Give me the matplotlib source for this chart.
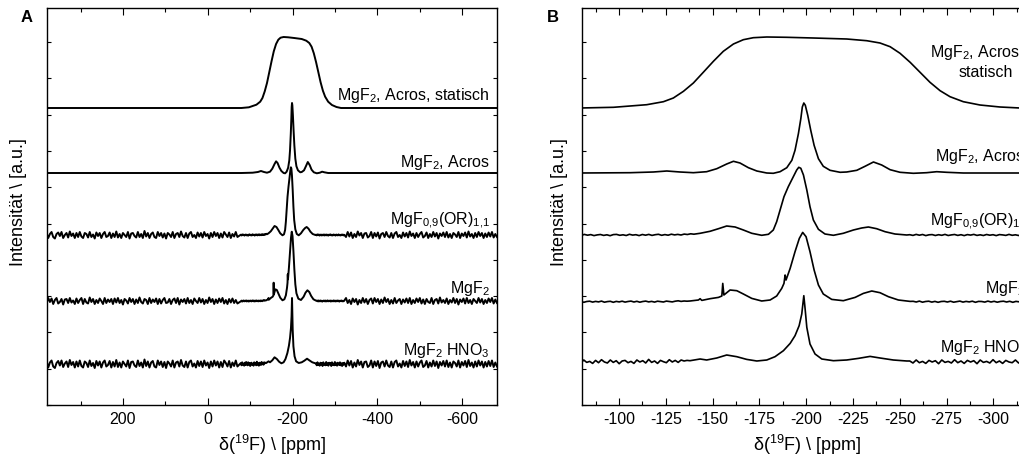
import numpy as np
from matplotlib import pyplot as plt
from matplotlib.ticker import MultipleLocator

plt.rcParams['font.family'] = ['Liberation Sans', 'DejaVu Sans']
plt.rcParams['mathtext.default'] = 'regular'
plt.rcParams['axes.unicode_minus'] = False

# --- spectra (ppm, intensity above own baseline) ---

# MgF2, Acros, static
stat_ppm = [380, 200, 0, -60, -79.2, -97.0, -114.8, -123.7, -129.0, -134.4, -139.7, -145.0,
            -150.4, -155.7, -161.1, -166.4, -171.7, -178.9, -189.6, -203.8, -221.6, -232.3,
            -239.4, -244.8, -250.1, -255.5, -260.8, -266.1, -271.5, -276.8, -283.9, -292.8,
            -303.5, -314.2, -340, -400, -682]
stat_int = [0, 0, 0, 0, 0, 0.7, 3.3, 6.3, 10, 16.7, 25, 35.7,
            46.7, 56.7, 64, 68.3, 70.3, 71, 70.7, 70, 69, 67.3,
            65, 61.3, 54.7, 45.7, 35.7, 25.7, 17.3, 11.3, 6.3, 3,
            1, 0, 0, 0, 0]

# MgF2, Acros (MAS)
acros_ppm = [380, 0, -79.2, -105.9, -118.3, -125.5, -132.6, -139.7, -146.8, -152.2, -157.5,
             -161.1, -164.6, -169.1, -173.6, -178.9, -182.4, -186.0, -189.6, -192.3, -194.0,
             -195.8, -197.1, -197.9, -198.7, -199.5, -200.8, -202.4, -204.2, -206.5, -209.1,
             -212.7, -218.1, -221.6, -227.0, -231.4, -235.9, -240.3, -244.8, -250.1, -257.2,
             -264.3, -269.7, -275.0, -283.9, -314.2, -400, -682]
acros_int = [0, 0, 0, 0.3, 1, 2, 1, 0.3, 1.3, 4.3, 9,
             11.7, 10, 5.3, 2, 0, -0.3, 1.3, 5.3, 12.7, 22.7,
             39.3, 54.3, 66, 70, 67.7, 57.7, 42.7, 27.7, 14.3, 6.7,
             2.7, 0.7, 1, 2.7, 6.7, 11, 8, 3.3, 0.7, -0.3,
             0.3, 1.3, 0.7, 0, 0, 0, 0]

# MgF0,9(OR)1,1 : baseline noise pieces + read peak region
or_noise_far_left = [
    2, -3, 1, 3, -2, -3.5, 1, 2.5, -1, 3, -3, 0, 2, -2.5, 3.5, -1, 1.5, -3, 2, -2,
    3, -1.5, -3, 2, 1, -2.5, 3, -2, 0.5, -3.5, 2.5, -1, 2, -3, 1, 3, -2, -1, 2.5, -3,
    1.5, -2, 3.5, -2.5, 1, -3, 2, 0, -2, 3, -3.5, 1.5, 2, -1, -2.5, 3, -2, 1, -3, 4,
    -1.5, 2, -3, 1, 2.5, -2, -3, 3, -1, 2, -2.5, 1.5, -3.5, 2, 0.5, -2, 3, -3, 1, 2,
    -2, 3.5, -1, -2.5, 2, -3, 1.5, 3, -2, 0, -3, 2.5, -1.5, 2, -2.5, 3, -1, 1, -3.5, 2,
    -2, 3, -1, 2, -3, 1.5, -2.5, 3, 0.5, -2, 2.5, -3, 1, -1.5, 3, -2]
or_noise_left = [
    0.3, -0.5, 0.6, -0.2, 0.4, -0.6, 0.1, 0.5, -0.4, 0.2, -0.7, 0.4, 0.6, -0.3, 0.2, -0.5,
    0.7, -0.1, 0.3, -0.6, 0.5, -0.2, 0.6, -0.4, 0.3, 0.7, -0.3, 0.4, -0.2, 0.8, 0.1, 0.6,
    0, 0.9, 0.5, 1.2, 0.8, 1.3]
or_peak_ppm = [-143.3, -148.6, -153.1, -157.5, -162.0, -166.4, -170.9, -176.2, -179.8, -182.4,
               -184.2, -186.0, -188.1, -190.4, -193.1, -194.9, -196.0, -197.1, -198.5, -200.3,
               -202.0, -203.8, -206.5, -210.0, -214.5, -219.8, -225.2, -229.6, -233.2, -237.6,
               -242.1, -247.4, -253.7]
or_peak_int = [1.7, 3.7, 6.3, 9, 8, 5, 1.7, -0.3, 0.7, 5,
               13.3, 25, 38.3, 48.3, 58.3, 65, 67.7, 66.7, 60, 45,
               28.3, 15, 5.7, 1, -0.3, 1.7, 5, 7, 8, 6.3,
               3.3, 1, 0]
or_noise_right = [
    0.3, -0.4, 0.6, -0.2, 0.5, -0.6, 0.2, 0.4, -0.5, 0.3, -0.3, 0.6, -0.5, 0.1, 0.5, -0.4,
    0.3, -0.6, 0.4, -0.1, 0.6, -0.4, 0.2, -0.5, 0.5, -0.2, 0.3, -0.6, 0.4, 0.1, -0.4, 0.6,
    -0.3, 0.2, -0.5, 0.4, -0.2, 0.5, -0.4, 0.2]
or_noise_far_right = [
    -2, 3, -1.5, 2.5, -3, 1, -2, 3.5, -0.5, 2, -3, 1.5, 2, -2.5, -1, 3, -3, 2, -1.5, 2.5,
    -3.5, 1, 2, -2, 3, -1, -2.5, 2, -3, 1.5, 3, -2, 0, -3, 2.5, -1.5, 2, -2.5, 3.5, -1,
    1.5, -3, 2, -2, 1, 3, -2.5, -1, 2.5, -3, 1, -2, 3, -1.5, 2, -3.5, 1.5, -1, 2.5, -2,
    3, -2.5, 1, -3, 2, 0.5, -2, 3, -3, 1.5, -1, 2.5, -2.5, 3.5, -1.5, 1, -3, 2, -2, 3,
    -1, 2, -3, 1.5, -2, 2.5, -1.5, 3, -2.5, 1, -2]

# MgF2
mgf_noise_far_left = [
    -2, 3, -1, 2.5, -3, 1, 3, -2.5, -1, 2, -3.5, 1.5, 2, -2, 3, -1.5, 0.5, -3, 2.5, -2,
    1, 3, -3, 2, -1.5, -2.5, 3.5, -1, 2, -3, 1, -2, 2.5, 0, -3, 3, -2, 1.5, -1, 2,
    -3, 2.5, -1.5, 3, -2, 1, -3.5, 2, 0.5, -2.5, 3, -1, 2, -3, 1.5, -2, 3.5, -1, -2.5, 2,
    1, -3, 3, -2, 1.5, -1, 2.5, -3, 2, -2.5, 1, 3, -2, -1.5, 2, -3, 1, 2.5, -2, 3,
    -3.5, 1.5, -1, 2, -2.5, 3, -2, 1, -3, 2.5, 0, -2, 3, -1.5, 2, -3, 1, -2, 3.5, -1,
    2, -3, 1.5, -2, 2.5, -1, 3, -2.5, 1, -3, 2, -1.5, 2.5, -2, 1, -2.5]
mgf_noise_left = [
    -0.3, 0.4, -0.6, 0.2, 0.5, -0.4, 0.3, -0.2, 0.6, -0.5, 0.1, 0.4, -0.6, 0.3, -0.2, 0.5,
    -0.4, 0.2, 0.6, -0.3, 0.4, -0.5, 0.2, 0.6, -0.2, 0.3, -0.4, 0.5, 0.1, -0.3, 0.6, 0.2,
    -0.2, 0.5, 0.9, 0.3, 0.7, 0.5]
mgf_peak_ppm = [-137.9, -142.4, -143.3, -144.2, -148.6, -153.1, -154.9, -155.4, -156.0, -159.3,
                -162.9, -166.4, -170.9, -176.2, -180.7, -184.2, -186.9, -188.1, -188.7, -189.2,
                -191.4, -194.0, -196.3, -198.1, -199.9, -202.0, -204.2, -206.5, -209.1, -213.6,
                -219.8, -226.1, -230.5, -235.0, -239.4, -243.9, -249.2, -255.5]
mgf_peak_int = [0.7, 1.7, 3, 1.3, 3, 4.3, 5.7, 18.3, 6.7, 11.7,
                11, 7.7, 3.3, 0.7, 1.7, 5.7, 13.3, 18.3, 26.7, 21.7,
                33.3, 50, 63.3, 69.3, 65, 50, 31.7, 16.7, 7.7, 2.3,
                1, 4.3, 8.3, 10.7, 9, 5, 1.7, 0.3]
mgf_noise_right = [
    0.4, -0.3, 0.6, -0.5, 0.2, 0.5, -0.4, 0.3, -0.6, 0.2, 0.4, -0.3, 0.5, -0.5, 0.1, 0.6,
    -0.4, 0.3, -0.2, 0.5, -0.6, 0.3, 0.2, -0.4, 0.6, -0.3, 0.4, -0.5, 0.2, 0.5, -0.3, 0.4,
    -0.6, 0.3, -0.1, 0.5, -0.4, 0.2, -0.3, 0.4]
mgf_noise_far_right = [
    3, -2, 1, -3, 2.5, -1, 2, -3.5, 1, -2, 3, -1.5, 2, -3, 1, 2.5, -2.5, 3, -1, 2,
    -3, 1.5, -2, 3.5, -1, 2, -3, 1, -2.5, 3, -2, 0.5, 2, -3, 1.5, -1.5, 2.5, -2, 3, -3,
    1, -2, 2.5, -1, 3, -2.5, 1.5, -3, 2, -1, -2, 3, -3, 1, 2, -2.5, 3.5, -1.5, 1, -2,
    2.5, -3, 1, -1.5, 3, -2, 2, -3.5, 1.5, -1, 2.5, -2.5, 3, -2, 1, -3, 2, 0, -2, 3,
    -1.5, 2, -3, 1, -2, 2.5, -1, 3, -2.5, 1.5, -2]

# MgF2 HNO3
hno_noise_far_left = [
    3, -3.5, 1.5, 3.5, -2.5, -4, 1, 3, -1.5, 3.5, -3, 0.5, 2.5, -3, 4, -1, 2, -3.5, 2.5, -2.5,
    3.5, -2, -3.5, 2.5, 1, -3, 3.5, -2, 1, -4, 3, -1.5, 2.5, -3.5, 1.5, 3.5, -2.5, -1, 3, -3.5,
    2, -2.5, 4, -3, 1.5, -3.5, 2.5, 0, -2.5, 3.5, -4, 2, 2.5, -1.5, -3, 3.5, -2, 1.5, -3.5, 4.5,
    -2, 2.5, -3.5, 1.5, 3, -2.5, -3.5, 3.5, -1, 2.5, -3, 2, -4, 2.5, 0.5, -2.5, 3.5, -3.5, 1.5, 2.5,
    -2.5, 4, -1.5, -3, 2.5, -3.5, 2, 3.5, -2.5, 0.5, -3.5, 3, -2, 2.5, -3, 3.5, -1.5, 1.5, -4, 2.5,
    -2.5, 3.5, -1.5, 2.5, -3.5, 2, -3, 3.5, 1, -2.5, 3, -3.5, 1.5, -2, 3.5, -2.5]
hno_noise_left = [
    1, -1.3, 1.7, -0.7, 0.3, -1.7, 1.3, -1, 2, -0.3, -1.3, 1.7, -0.7, 1, -2, 0.7,
    1.3, -1, 0.3, -1.7, 1.7, -0.3, 1, -1.3, 2.3, -0.7, 0.7, -1.7, 1.3, 0, -1, 2,
    -0.3, 1.3, -0.7, 1.7, 0.7, 1.3]
hno_peak_ppm = [-137.9, -143.3, -146.8, -152.2, -157.5, -162.9, -168.2, -173.6, -178.9, -183.3,
                -187.8, -191.4, -194.0, -196.2, -197.6, -198.7, -199.4, -200.3, -202.0, -204.7,
                -208.3, -214.5, -221.6, -227.8, -234.1, -239.4, -246.5, -253.7]
hno_peak_int = [1, 2.7, 1.7, 3.7, 6.7, 5, 2.3, 0.7, 1.7, 5,
                11, 18.3, 26, 36, 47.7, 66, 52.7, 34.3, 17.7, 7.7,
                2.7, 1, 1.7, 3.3, 5.3, 3.7, 1.7, 0.7]
hno_noise_right = [
    0.7, -1.3, 1.7, -1, 0.3, -1.7, 1.3, -0.3, 1, -2, 1.7, -0.7, 0.3, -1.3, 2, -1,
    0.7, -1.7, 1.3, -0.3, 1, -2, 1.7, -0.7, 0.3, -1.3, 2, -1, 0.7, -1.7, 1.3, -0.3,
    -1, 1.7, -1.3, 0.7, -2, 1, -0.7, 1.3]
hno_noise_far_right = [
    -2.5, 3.5, -1.5, 3, -3.5, 1.5, -2.5, 4, -1, 2.5, -3.5, 2, 2.5, -3, -1.5, 3.5, -3.5, 2.5, -2, 3,
    -4, 1.5, 2.5, -2.5, 3.5, -1.5, -3, 2.5, -3.5, 2, 3.5, -2.5, 0.5, -3.5, 3, -2, 2.5, -3, 4, -1.5,
    2, -3.5, 2.5, -2.5, 1.5, 3.5, -3, -1.5, 3, -3.5, 1.5, -2.5, 3.5, -2, 2.5, -4, 2, -1.5, 3, -2.5,
    3.5, -3, 1.5, -3.5, 2.5, 1, -2.5, 3.5, -3.5, 2, -1.5, 3, -3, 4, -2, 1.5, -3.5, 2.5, -2.5, 3.5,
    -1.5, 2.5, -3.5, 2, -2.5, 3, -2, 3.5, -3, 1.5, -2.5]

labels_A = ["MgF$_2$, Acros, statisch", "MgF$_2$, Acros", "MgF$_{0{,}9}$(OR)$_{1{,}1}$",
            "MgF$_2$", "MgF$_2$ HNO$_3$"]
labels_B = ["MgF$_2$, Acros,", "statisch", "MgF$_2$, Acros", "MgF$_{0{,}9}$(OR)$_{1{,}1}$",
            "MgF$_2$", "MgF$_2$ HNO$_3$"]


def noisy_spectrum(far_left, left, peak_ppm, peak_int, right, far_right):
    """Join the baseline pieces (sampled evenly) and the read peak region."""
    ppm = np.concatenate([np.linspace(380, -70, len(far_left)),
                          np.linspace(-78, peak_ppm[0] + 1.6, len(left)),
                          peak_ppm,
                          np.linspace(peak_ppm[-1] - 1.6, -322, len(right)),
                          np.linspace(-326, -682, len(far_right))])
    inten = np.concatenate([far_left, left, peak_int, right, far_right])
    return ppm, inten


spectra = [
    (np.array(stat_ppm), np.array(stat_int)),
    (np.array(acros_ppm), np.array(acros_int)),
    noisy_spectrum(or_noise_far_left, or_noise_left, or_peak_ppm, or_peak_int,
                   or_noise_right, or_noise_far_right),
    noisy_spectrum(mgf_noise_far_left, mgf_noise_left, mgf_peak_ppm, mgf_peak_int,
                   mgf_noise_right, mgf_noise_far_right),
    noisy_spectrum(hno_noise_far_left, hno_noise_left, hno_peak_ppm, hno_peak_int,
                   hno_noise_right, hno_noise_far_right),
]

# stacking offsets and label placement
offsets_A = [297, 232, 170, 104, 41]
offsets_B = [297, 232, 170, 103.3, 43.3]
label_y_A = [305, 238, 180, 112, 50]
label_xy_B = [(0.773, 348), (0.836, 328), (0.784, 244), (0.773, 179), (0.896, 112), (0.796, 53)]

fig = plt.figure(figsize=(10.2, 4.55), dpi=100)
axA = fig.add_axes([47 / 1020, 50 / 455, 450 / 1020, 397 / 455])
axB = fig.add_axes([582 / 1020, 50 / 455, 450 / 1020, 397 / 455])

for (ppm, inten), off in zip(spectra, offsets_A):
    axA.plot(ppm, inten + off, color='black', lw=1.4)
for (ppm, inten), off in zip(spectra, offsets_B):
    axB.plot(ppm, inten + off, color='black', lw=1.2)

axA.set_xlim(379, -682)
axB.set_xlim(-80.2, -320.6)
axA.xaxis.set_major_locator(MultipleLocator(200))
axA.xaxis.set_minor_locator(MultipleLocator(100))
axB.xaxis.set_major_locator(MultipleLocator(25))
axB.xaxis.set_minor_locator(MultipleLocator(12.5))

for ax in (axA, axB):
    ax.set_ylim(0, 397)
    ax.yaxis.set_major_locator(MultipleLocator(36.3))
    ax.tick_params(which='both', direction='in', top=True, right=True, width=0.8)
    ax.tick_params(axis='x', which='major', length=5, labelsize=11.5, pad=5)
    ax.tick_params(axis='x', which='minor', length=3)
    ax.tick_params(axis='y', length=3, labelleft=False)
    for s in ax.spines.values():
        s.set_linewidth(1.0)
    ax.set_xlabel(r"$\delta$($^{19}$F) \ [ppm]", fontsize=13)
    ax.xaxis.set_label_coords(0.5, -0.07)
    ax.set_ylabel("Intensität \\ [a.u.]", fontsize=13)

axA.yaxis.set_label_coords(-0.044, 0.51)
axB.yaxis.set_label_coords(-0.031, 0.51)

for txt, y in zip(labels_A, label_y_A):
    axA.text(0.984, y, txt, transform=axA.get_yaxis_transform(), ha='right',
             va='baseline', fontsize=11.5)
for txt, (x, y) in zip(labels_B, label_xy_B):
    axB.text(x, y, txt, transform=axB.get_yaxis_transform(), ha='left',
             va='baseline', fontsize=11.5)

fig.text(27 / 1020, 1 - 17 / 455, "A", fontsize=12, fontweight='bold', ha='center', va='center')
fig.text(553 / 1020, 1 - 17 / 455, "B", fontsize=12, fontweight='bold', ha='center', va='center')

fig.savefig('out.png', dpi=100)
